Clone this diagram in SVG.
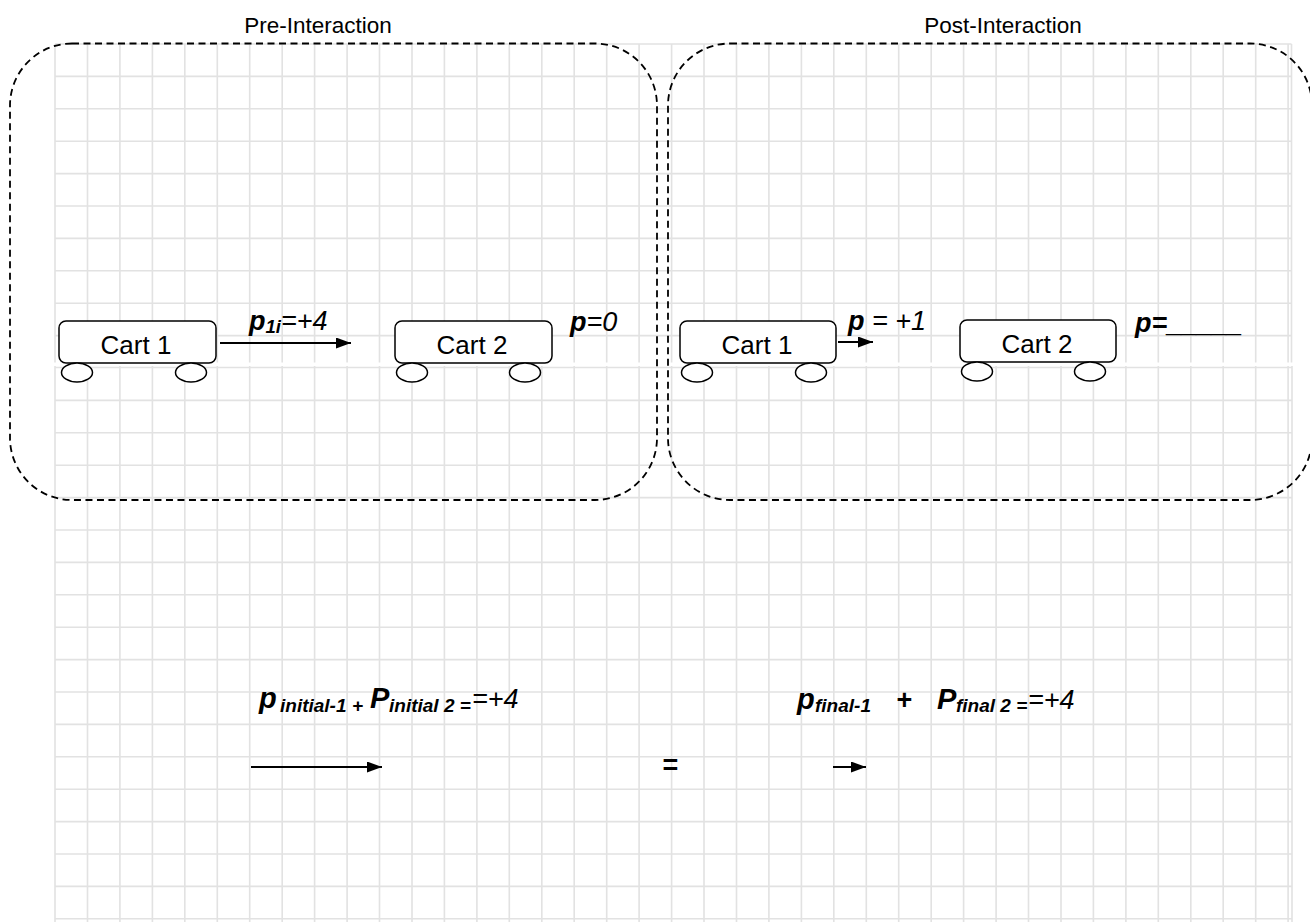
<svg xmlns="http://www.w3.org/2000/svg" width="1310" height="922" viewBox="0 0 1310 922">
  <style>
    .grid { fill: none; stroke: #e2e2e2; stroke-width: 1.6; }
    .frame { fill: none; stroke: #000; stroke-width: 1.8; stroke-dasharray: 7 4.5; }
    .body { fill: #fff; stroke: #000; stroke-width: 1.5; }
    .wheel { fill: #fff; stroke: #000; stroke-width: 1.5; }
    .vec { fill: none; stroke: #000; stroke-width: 2; marker-end: url(#head); }
    .title { font-family: "Liberation Sans", Arial, sans-serif; font-size: 22.5px; fill: #000; text-anchor: middle; }
    .cart { font-family: "Liberation Sans", Arial, sans-serif; font-size: 26px; fill: #000; text-anchor: middle; }
    .lbl { font-family: "Liberation Sans", Arial, sans-serif; font-size: 27px; font-style: italic; fill: #000; }
    .b { font-weight: bold; }
    .sub { font-size: 18.5px; font-weight: bold; }
    .ssub { font-size: 19px; font-weight: bold; }
    .big { font-size: 29px; font-weight: bold; }
  </style>
  <defs>
    <marker id="head" markerUnits="userSpaceOnUse" markerWidth="15" markerHeight="11" refX="15" refY="5.5" orient="auto">
      <path d="M0,0 L15,5.5 L0,11 Z" fill="#000"/>
    </marker>
  </defs>

  <rect width="1310" height="922" fill="#fff"/>

  <!-- graph paper background: upper block 44..362, lower block 366..922 -->
  <g id="grid">
    <path class="grid" d="M55 44V362.5M87.5 44V362.5M119.9 44V362.5M152.4 44V362.5M184.8 44V362.5M217.3 44V362.5M249.7 44V362.5M282.2 44V362.5M314.6 44V362.5M347.1 44V362.5M379.5 44V362.5M412 44V362.5M444.4 44V362.5M476.9 44V362.5M509.3 44V362.5M541.8 44V362.5M574.2 44V362.5M606.7 44V362.5M639.1 44V362.5M671.6 44V362.5M704 44V362.5M736.5 44V362.5M768.9 44V362.5M801.4 44V362.5M833.8 44V362.5M866.3 44V362.5M898.7 44V362.5M931.2 44V362.5M963.6 44V362.5M996.1 44V362.5M1028.5 44V362.5M1061 44V362.5M1093.4 44V362.5M1125.9 44V362.5M1158.3 44V362.5M1190.8 44V362.5M1223.2 44V362.5M1255.7 44V362.5M1288.1 44V362.5M1291.5 44V362.5"/>
    <path class="grid" d="M55 366V922M87.5 366V922M119.9 366V922M152.4 366V922M184.8 366V922M217.3 366V922M249.7 366V922M282.2 366V922M314.6 366V922M347.1 366V922M379.5 366V922M412 366V922M444.4 366V922M476.9 366V922M509.3 366V922M541.8 366V922M574.2 366V922M606.7 366V922M639.1 366V922M671.6 366V922M704 366V922M736.5 366V922M768.9 366V922M801.4 366V922M833.8 366V922M866.3 366V922M898.7 366V922M931.2 366V922M963.6 366V922M996.1 366V922M1028.5 366V922M1061 366V922M1093.4 366V922M1125.9 366V922M1158.3 366V922M1190.8 366V922M1223.2 366V922M1255.7 366V922M1288.1 366V922M1292 366V922"/>
    <path class="grid" d="M55 44H1291.5M55 76.4H1291.5M55 108.8H1291.5M55 141.2H1291.5M55 173.6H1291.5M55 206H1291.5M55 238.4H1291.5M55 270.8H1291.5M55 303.2H1291.5M55 335.6H1291.5M55 367.5H1292M55 400.4H1292M55 432.8H1292M55 465.2H1292M55 497.6H1292M55 530H1292M55 562.4H1292M55 594.8H1292M55 627.2H1292M55 659.6H1292M55 692H1292M55 724.4H1292M55 756.8H1292M55 789.2H1292M55 821.6H1292M55 854H1292M55 886.4H1292M55 918.8H1292"/>
  </g>

  <!-- section frames -->
  <g id="pre-interaction">
    <rect class="frame" x="10" y="43.5" width="647" height="456.5" rx="62" ry="62"/>
    <text class="title" x="318" y="33">Pre-Interaction</text>
  </g>
  <g id="post-interaction">
    <rect class="frame" x="668" y="43.5" width="644" height="456.5" rx="62" ry="62"/>
    <text class="title" x="1003" y="33">Post-Interaction</text>
  </g>

  <!-- carts before the interaction -->
  <g id="pre-cart-1">
    <rect class="body" x="59" y="321" width="157" height="42" rx="7"/>
    <ellipse class="wheel" cx="77" cy="372.5" rx="15.5" ry="9.5"/>
    <ellipse class="wheel" cx="191" cy="372.5" rx="15.5" ry="9.5"/>
    <text class="cart" x="136" y="354">Cart 1</text>
  </g>
  <g id="pre-cart-2">
    <rect class="body" x="395" y="321" width="157" height="42" rx="7"/>
    <ellipse class="wheel" cx="412" cy="372.5" rx="15.5" ry="9.5"/>
    <ellipse class="wheel" cx="525" cy="372.5" rx="15.5" ry="9.5"/>
    <text class="cart" x="472" y="354">Cart 2</text>
  </g>

  <!-- carts after the interaction -->
  <g id="post-cart-1">
    <rect class="body" x="680" y="321" width="156" height="42" rx="7"/>
    <ellipse class="wheel" cx="697" cy="372.5" rx="15.5" ry="9.5"/>
    <ellipse class="wheel" cx="811" cy="372.5" rx="15.5" ry="9.5"/>
    <text class="cart" x="757" y="354">Cart 1</text>
  </g>
  <g id="post-cart-2">
    <rect class="body" x="960" y="320" width="156" height="42" rx="7"/>
    <ellipse class="wheel" cx="977" cy="371.5" rx="15.5" ry="9.5"/>
    <ellipse class="wheel" cx="1090" cy="371.5" rx="15.5" ry="9.5"/>
    <text class="cart" x="1037" y="353">Cart 2</text>
  </g>

  <!-- momentum vectors -->
  <g id="connectors">
    <path class="vec" d="M220 343H351"/>
    <path class="vec" d="M838 342H873"/>
    <path class="vec" d="M251 767H382"/>
    <path class="vec" d="M833 767H866"/>
  </g>

  <!-- momentum labels -->
  <g id="labels">
    <text class="lbl" x="249" y="330"><tspan class="b">p</tspan><tspan class="sub" dy="3">1i</tspan><tspan dy="-3">=+4</tspan></text>
    <text class="lbl" x="570" y="331"><tspan class="b">p</tspan>=0</text>
    <text class="lbl" x="848" y="330"><tspan class="b">p</tspan> = +1</text>
    <text class="lbl b" x="1135" y="332">p=_____</text>

    <text class="lbl" y="708"><tspan class="big" x="259">p</tspan><tspan class="ssub" x="280" dy="4">initial-1</tspan><tspan class="ssub" x="352">+</tspan><tspan class="big" x="370" dy="-4">P</tspan><tspan class="ssub" x="389" dy="4">initial 2 =</tspan><tspan x="472" dy="-4">=+4</tspan></text>
    <text class="lbl b" x="662" y="774">=</text>
    <text class="lbl" y="709"><tspan class="big" x="797">p</tspan><tspan class="ssub" x="815" dy="3">final-1</tspan><tspan class="b" x="896" dy="-3">+</tspan><tspan class="big" x="937">P</tspan><tspan class="ssub" x="956" dy="3">final 2 =</tspan><tspan x="1028" dy="-3">=+4</tspan></text>
  </g>
</svg>
